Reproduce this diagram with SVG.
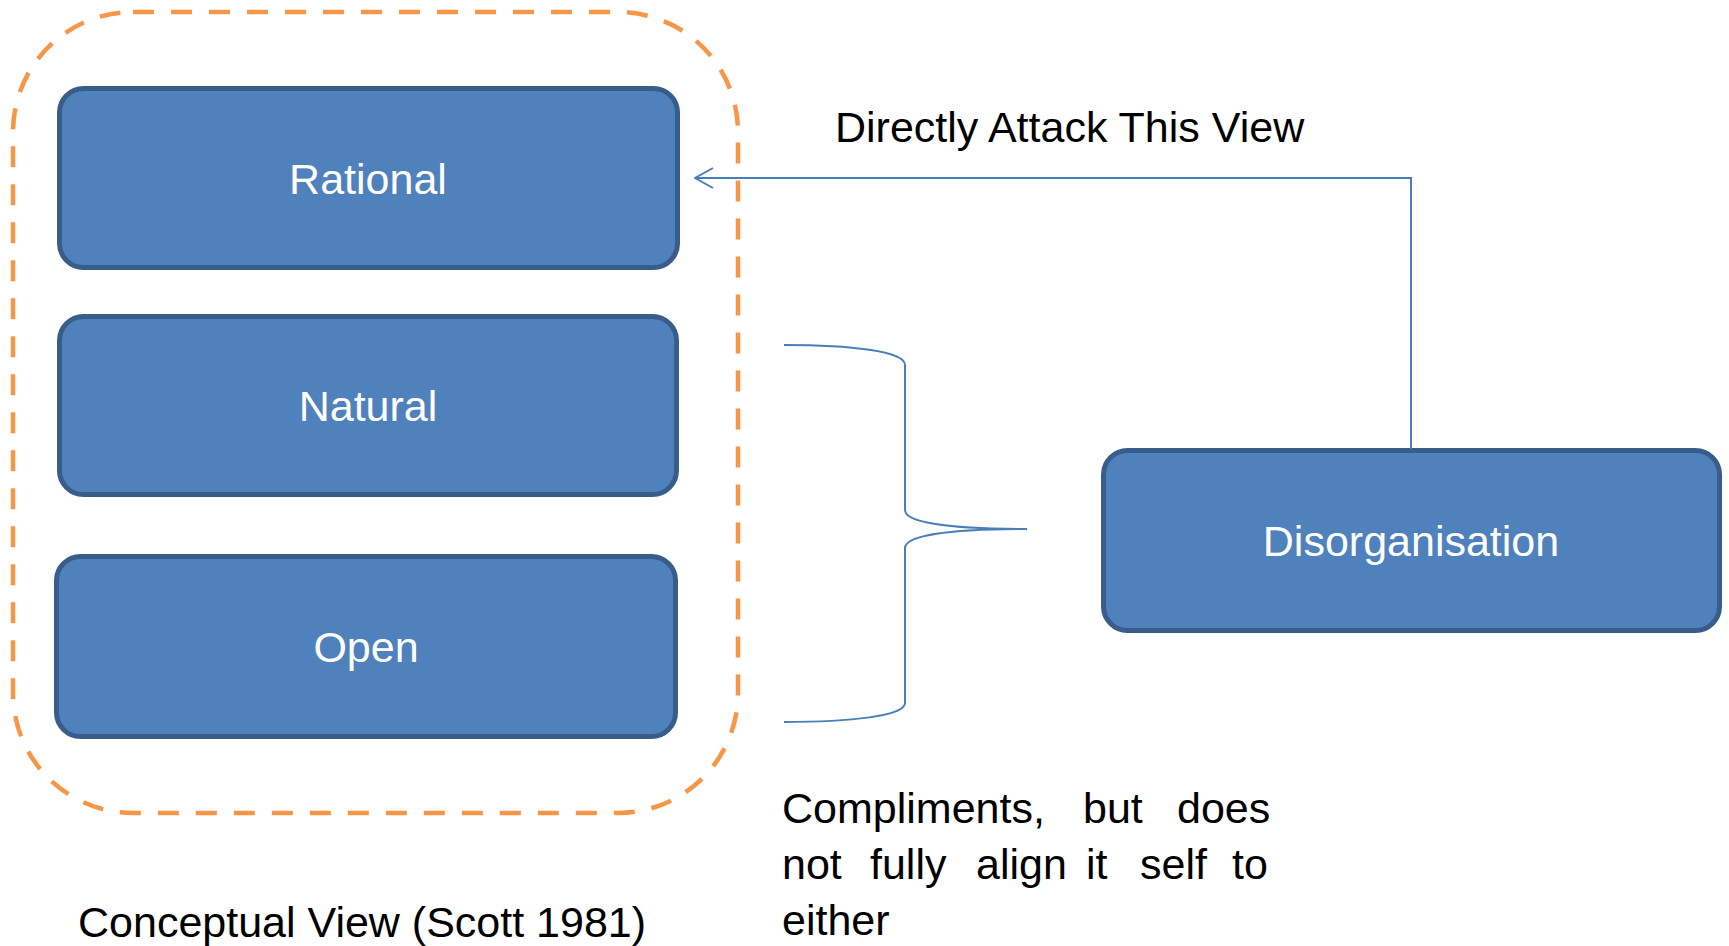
<svg xmlns="http://www.w3.org/2000/svg" width="1729" height="946" viewBox="0 0 1729 946">
  <defs>
    <style>
      .box { fill: #4F81BD; stroke: #385D8A; stroke-width: 5; }
      .label { font-family: "Liberation Sans", Arial, sans-serif; font-size: 43px; fill: #FFFFFF; text-anchor: middle; }
      .note { font-family: "Liberation Sans", Arial, sans-serif; font-size: 43px; fill: #000000; }
      .link { fill: none; stroke: #4A7EBB; stroke-width: 2; }
      .group { fill: none; stroke: #F79646; stroke-width: 4.5; stroke-dasharray: 21 17; }
    </style>
    <!-- open chevron arrowhead; tip sits at the end of the line -->
    <marker id="open-arrow" viewBox="0 0 20 24" refX="19" refY="12" markerWidth="20" markerHeight="24" markerUnits="userSpaceOnUse" orient="auto">
      <path d="M1,2 L19,12 L1,22" fill="none" stroke="#4A7EBB" stroke-width="2"/>
    </marker>
  </defs>

  <rect width="1729" height="946" fill="#FFFFFF"/>

  <!-- dashed grouping of the three conceptual views -->
  <g id="conceptual-group">
    <rect class="group" x="13" y="12" width="725" height="801" rx="120" ry="120"/>
  </g>

  <g id="rational">
    <rect class="box" x="59.5" y="88.5" width="618" height="179" rx="24" ry="24"/>
    <text class="label" x="368" y="194">Rational</text>
  </g>

  <g id="natural">
    <rect class="box" x="59.5" y="316.5" width="617" height="178" rx="24" ry="24"/>
    <text class="label" x="368" y="421">Natural</text>
  </g>

  <g id="open">
    <rect class="box" x="56.5" y="556.5" width="619" height="180" rx="24" ry="24"/>
    <text class="label" x="366" y="662">Open</text>
  </g>

  <g id="disorganisation">
    <rect class="box" x="1103.5" y="450.5" width="616" height="180" rx="24" ry="24"/>
    <text class="label" x="1411" y="556">Disorganisation</text>
  </g>

  <g id="connectors">
    <!-- Disorganisation attacks the Rational view -->
    <path class="link" d="M1411,449 L1411,178 L695,178" marker-end="url(#open-arrow)"/>
    <!-- brace spanning Natural and Open -->
    <path class="link" d="M784,345 C850,345 905,351 905,365 L905,510 C905,522 945,529 1027,529 C945,529 905,536 905,548 L905,703 C905,716 850,722 784,722"/>
  </g>

  <g id="labels">
    <text class="note" x="835" y="142">Directly Attack This View</text>
    <text class="note" x="78" y="937">Conceptual View (Scott 1981)</text>
    <!-- justified paragraph: each word placed on its own -->
    <text class="note">
      <tspan x="782" y="823">Compliments,</tspan>
      <tspan x="1083" y="823">but</tspan>
      <tspan x="1177" y="823">does</tspan>
      <tspan x="782" y="879">not</tspan>
      <tspan x="870" y="879">fully</tspan>
      <tspan x="976" y="879">align</tspan>
      <tspan x="1086" y="879">it</tspan>
      <tspan x="1140" y="879">self</tspan>
      <tspan x="1232" y="879">to</tspan>
      <tspan x="782" y="935">either</tspan>
    </text>
  </g>
</svg>
